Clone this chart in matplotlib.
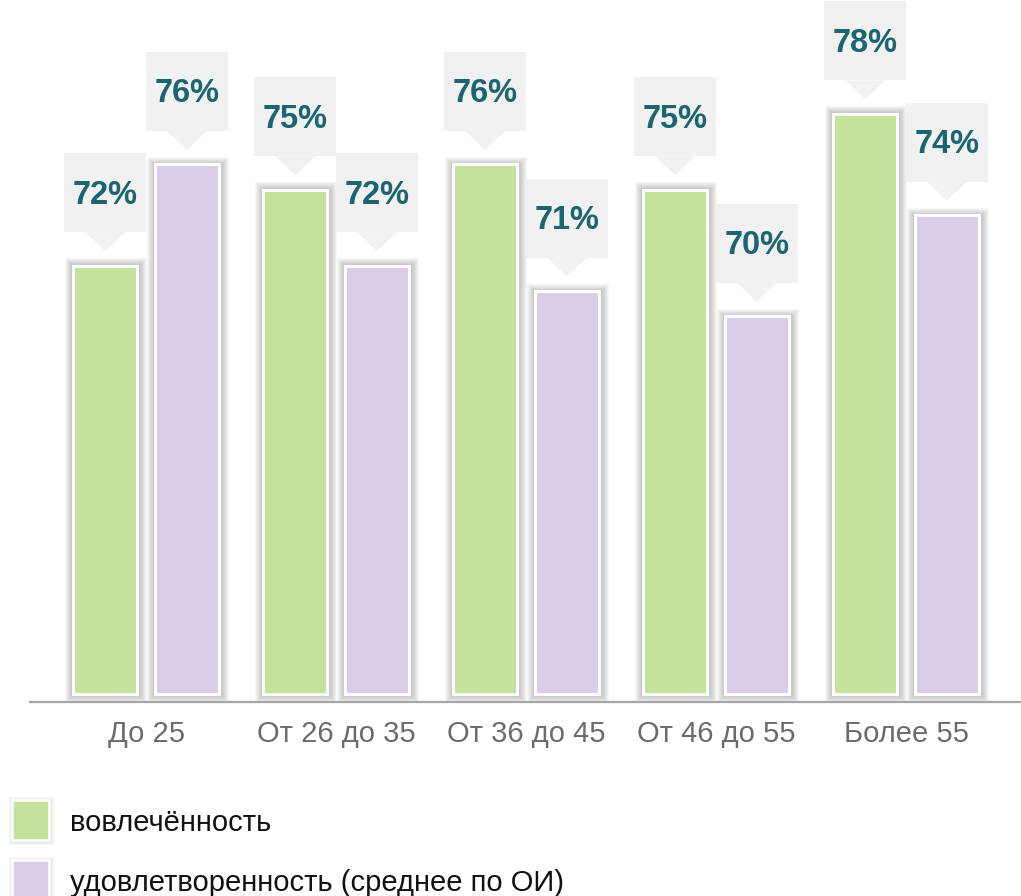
import matplotlib
matplotlib.use("Agg")
import matplotlib.pyplot as plt
from matplotlib.patches import Rectangle, Polygon
from matplotlib.transforms import IdentityTransform

plt.rcParams['font.family'] = ['Liberation Sans', 'DejaVu Sans']

categories = ['До 25', 'От 26 до 35', 'От 36 до 45', 'От 46 до 55', 'Более 55']
engagement = [72, 75, 76, 75, 78]
satisfaction = [76, 72, 71, 70, 74]
series_names = ['вовлечённость', 'удовлетворенность (среднее по ОИ)']

GREEN = '#c4e29b'
PURPLE = '#dacde8'
LABEL_COLOR = '#1a6570'
BOX_COLOR = '#f1f1f1'

W, H, DPI = 1021, 896, 100
px = IdentityTransform()

fig = plt.figure(figsize=(W / DPI, H / DPI), dpi=DPI)
# axes from top of figure down to the baseline line
ax = fig.add_axes([0, (H - 703) / H, 1, 703 / H])
ax.set_xlim(-146 / 190, (W - 146) / 190)
ax.set_ylim(54.72, 82.5)
ax.axis('off')

base = 55.08
bw = 0.34
off = 0.215


def shadow(target, x0, y0, x1, y1, layers=7):
    # soft grey glow around a rectangle given in pixels
    for i in range(1, layers + 1):
        r = Rectangle((x0 - i + 1, y0 - i - 1), (x1 - x0) + 2 * i, (y1 - y0) + 2 * i,
                      transform=px, facecolor='black', edgecolor='none',
                      alpha=0.03, zorder=1, clip_on=False)
        if target is fig:
            fig.add_artist(r)
        else:
            target.add_patch(r)


def callout(cx, ytop, text):
    tip = ytop + 13
    tb = tip + 19
    tri = Polygon([(cx - 20, tb), (cx + 20, tb), (cx, tip)], closed=True,
                  transform=px, facecolor=BOX_COLOR, edgecolor='none', zorder=4)
    box = Rectangle((cx - 41, tb), 82, 79, transform=px, facecolor=BOX_COLOR,
                    edgecolor='none', zorder=4)
    fig.add_artist(tri)
    fig.add_artist(box)
    fig.text(cx, tb + 37, text, transform=px, ha='center', va='center',
             fontsize=23.5, fontweight='bold', color=LABEL_COLOR, zorder=5)


xs = range(len(categories))
bars_g = ax.bar([x - off for x in xs], [v - base for v in engagement], bw, bottom=base,
                color=GREEN, edgecolor='white', linewidth=2.2, zorder=3)
bars_p = ax.bar([x + off for x in xs], [v - base for v in satisfaction], bw, bottom=base,
                color=PURPLE, edgecolor='white', linewidth=2.2, zorder=3)

fig.canvas.draw()
for bars, vals in ((bars_g, engagement), (bars_p, satisfaction)):
    for b, v in zip(bars, vals):
        (x0, y0), (x1, y1) = ax.transData.transform([(b.get_x(), base), (b.get_x() + b.get_width(), v)])
        shadow(ax, x0 - 1.5, y0 - 1.5, x1 + 1.5, y1 + 1.5)
        callout((x0 + x1) / 2, y1 + 1.5, '%d%%' % v)

# baseline
ax.plot([30 / 190 - 146 / 190, ax.get_xlim()[1]], [54.74, 54.74],
        color='#a6a6a6', linewidth=1.6, clip_on=False, zorder=2)

for x, c in zip(xs, categories):
    ax.annotate(c, (x, 54.72), xytext=(0, -31), textcoords='offset pixels',
                ha='center', va='center', fontsize=21, color='#6b6b6b',
                annotation_clip=False)

# legend
for (ytop, col), name in zip([(800, GREEN), (860, PURPLE)], series_names):
    x0, y0 = 12, H - ytop - 40
    shadow(fig, x0, y0, x0 + 37, y0 + 40, layers=4)
    fig.add_artist(Rectangle((x0, y0), 37, 40, transform=px, facecolor=col,
                             edgecolor='white', linewidth=1.8, zorder=3))
    fig.text(70, H - ytop - 23, name, transform=px, ha='left', va='center',
             fontsize=21, color='#111111')

fig.savefig('out.png', dpi=DPI)
